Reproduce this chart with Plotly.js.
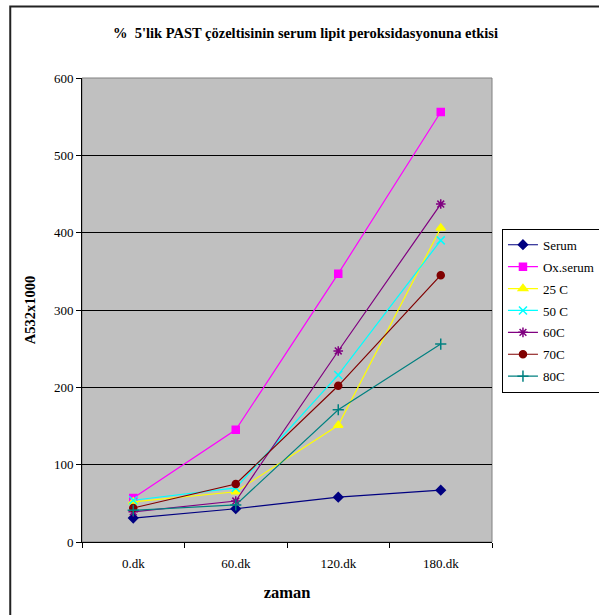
<!DOCTYPE html>
<html><head><meta charset="utf-8">
<script src="https://cdn.plot.ly/plotly-3.0.1.min.js"></script>
<style>html,body{margin:0;padding:0;background:#fff}#chart{width:599px;height:615px}</style>
</head><body><div id="chart"></div>
<script>
var categories = ["0.dk", "60.dk", "120.dk", "180.dk"];
var serum   = [31, 43, 58, 67];
var oxSerum = [57, 145, 347, 556];
var c25     = [52, 65, 151, 406];
var c50     = [54, 70, 216, 390];
var c60     = [39, 53, 247, 437];
var c70     = [44, 75, 202, 345];
var c80     = [41, 48, 171, 256];

var names   = ["Serum", "Ox.serum", "25 C", "50 C", "60C", "70C", "80C"];
var series  = [serum, oxSerum, c25, c50, c60, c70, c80];
var colors  = ["#000080", "#ff00ff", "#ffff00", "#00ffff", "#800080", "#800000", "#008080"];
var symbols = ["diamond", "square", "triangle-up", "x-thin-open", "asterisk-open", "circle", "cross-thin-open"];
var sizes   = [7, 7, 8, 8, 8, 7, 8];

var traces = series.map(function(v, i){
  return {
    x: categories, y: v, name: names[i], type: "scatter", mode: "lines+markers",
    legendgroup: "g" + i,
    line: {color: colors[i], width: 1.2},
    marker: {symbol: symbols[i], size: sizes[i], color: colors[i], line: {color: colors[i], width: 1.5}}
  };
});

var font = "'Liberation Serif', 'Times New Roman', serif";
var layout = {
  width: 599, height: 615,
  margin: {l: 82, r: 107, t: 78, b: 73},
  paper_bgcolor: "#ffffff", plot_bgcolor: "#c0c0c0",
  font: {family: font, size: 13, color: "#000"},
  title: {text: "<b>%  5'lik PAST çözeltisinin serum lipit peroksidasyonuna etkisi</b>",
          font: {family: font, size: 14.5, color: "#000"}, x: 0.51, xanchor: "center", y: 0.946, yanchor: "middle"},
  xaxis: {type: "category", range: [-0.5, 3.5], tickson: "boundaries", ticks: "outside", ticklen: 5, tickcolor: "#000",
          showline: true, linecolor: "#000", linewidth: 1, showgrid: false, zeroline: false,
          tickfont: {family: font, size: 13}, ticklabelstandoff: 9,
          title: {text: "<b>zaman</b>", font: {family: font, size: 16.5}, standoff: 16}},
  yaxis: {range: [0, 600], dtick: 100, ticks: "outside", ticklen: 5, tickcolor: "#000",
          showline: true, linecolor: "#000", linewidth: 1, showgrid: true, gridcolor: "#000", gridwidth: 1,
          zeroline: false, tickfont: {family: font, size: 13},
          title: {text: "<b>A532x1000</b>", font: {family: font, size: 14.5}, standoff: 14}},
  showlegend: true,
  legend: {xref: "container", yref: "container", x: 0.838, xanchor: "left", y: 0.628, yanchor: "top", bgcolor: "#ffffff",
           bordercolor: "#000", borderwidth: 1, font: {family: font, size: 13},
           traceorder: "grouped", tracegroupgap: 2, itemwidth: 30},
  shapes: [{type: "rect", xref: "paper", yref: "paper", x0: -0.175, x1: 1.5, y0: -0.5, y1: 1.154,
            line: {color: "#222", width: 2}, fillcolor: "rgba(0,0,0,0)"},
           {type: "rect", xref: "paper", yref: "paper", x0: 0, x1: 1, y0: 0, y1: 1,
            line: {color: "#808080", width: 1}, fillcolor: "rgba(0,0,0,0)", layer: "below"}]
};
Plotly.newPlot("chart", traces, layout, {displayModeBar: false, staticPlot: true});
</script></body></html>
